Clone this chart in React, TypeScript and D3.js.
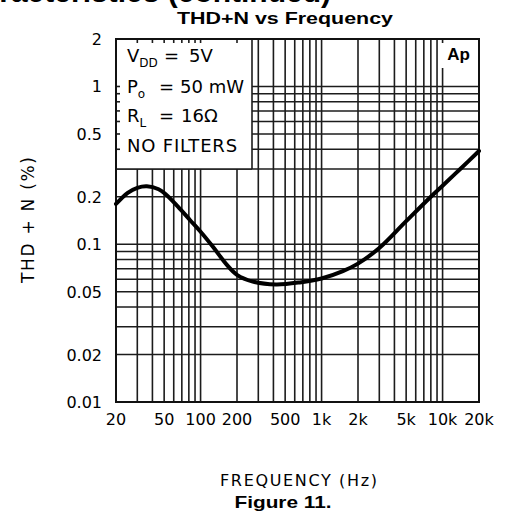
import React from 'react';
import * as d3 from 'd3';

// Measured curve (frequency in Hz, THD+N in %)
const freqs = [20, 25, 30, 36, 45, 52, 65, 82, 100, 127, 165, 200, 270, 420, 660, 1000, 1500, 2000, 3000, 5000, 8000, 10000, 14000, 20000];
const thdn = [0.18, 0.212, 0.228, 0.233, 0.223, 0.206, 0.173, 0.142, 0.12, 0.096, 0.074, 0.064, 0.058, 0.0556, 0.0573, 0.0607, 0.0676, 0.0754, 0.0946, 0.14, 0.2, 0.235, 0.3, 0.39];

const xTickValues = [20, 50, 100, 200, 500, 1000, 2000, 5000, 10000, 20000];
const xTickLabels = ['20', '50', '100', '200', '500', '1k', '2k', '5k', '10k', '20k'];
const yTickValues = [2, 1, 0.5, 0.2, 0.1, 0.05, 0.02, 0.01];
const yTickLabels = ['2', '1', '0.5', '0.2', '0.1', '0.05', '0.02', '0.01'];

const legendNames = ['V', 'P', 'R', 'NO FILTERS'];
const legendSubs = ['DD', 'o', 'L', ''];
const legendValues = ['5V', '50 mW', '16\u03A9', ''];

const headerText = 'Typical Characteristics (continued)';
const titleText = 'THD+N vs Frequency';
const xTitle = 'FREQUENCY (Hz)';
const yTitle = 'THD + N (%)';
const figureText = 'Figure 11.';
const apText = 'Ap';

export default function App() {
  const W = 510, H = 512;
  const left = 116, right = 479, top = 39, bottom = 402;
  const x = d3.scaleLog().domain([20, 20000]).range([left, right]);
  const y = d3.scaleLog().domain([0.01, 2]).range([bottom, top]);

  const xGrid = x.ticks().filter(v => v > 20 * 1.001 && v < 20000 * 0.999);
  const yGrid = y.ticks().filter(v => v > 0.01 * 1.001 && v < 2 * 0.999);

  const legendRight = 252;
  const legendBottom = y(0.3);

  const data: [number, number][] = freqs.map((f, i) => [f, thdn[i]]);
  const line = d3.line<[number, number]>()
    .x(d => x(d[0]))
    .y(d => y(d[1]))
    .curve(d3.curveCatmullRom.alpha(0.5));

  const plotFont = "'DejaVu Sans', sans-serif";
  const boldFont = "'Liberation Sans', Arial, sans-serif";
  const gridColor = '#1c1c1c';
  const legendRowY = [62, 93, 122, 152];
  const eqX = [164, 159, 159, 0];
  const valX = [189, 180, 181, 0];

  return (
    <svg width={W} height={H} style={{ position: 'absolute', left: 0, top: 0, background: '#fff' }}>
      <rect x={0} y={0} width={W} height={H} fill="#fff" />
      {/* cut-off page header */}
      <text x={331} y={1.5} fontFamily={boldFont} fontWeight="bold" fontSize={30} textAnchor="end" fill="#000">{headerText}</text>

      {/* title */}
      <text x={285} y={24} fontFamily={boldFont} fontWeight="bold" fontSize={17} textAnchor="middle" textLength={216} lengthAdjust="spacingAndGlyphs" fill="#000">{titleText}</text>

      {/* grid */}
      <g stroke={gridColor} strokeWidth={1.6}>
        {xGrid.map((v, i) => (
          <line key={'gx' + i} x1={x(v)} x2={x(v)} y1={top} y2={bottom} />
        ))}
        {yGrid.map((v, i) => (
          <line key={'gy' + i} x1={left} x2={right} y1={y(v)} y2={y(v)} />
        ))}
      </g>

      {/* legend box masking the grid */}
      <rect x={left} y={top} width={legendRight - left} height={legendBottom - top} fill="#fff" />
      <g stroke={gridColor} strokeWidth={1.6}>
        <line x1={legendRight} x2={legendRight} y1={top} y2={legendBottom} />
        <line x1={left} x2={legendRight} y1={legendBottom} y2={legendBottom} />
        {xGrid.filter(v => x(v) < legendRight - 2).map((v, i) => (
          <line key={'lt' + i} x1={x(v)} x2={x(v)} y1={top} y2={top + 4} />
        ))}
        {yGrid.filter(v => y(v) < legendBottom - 2).map((v, i) => (
          <line key={'ll' + i} x1={left} x2={left + 4} y1={y(v)} y2={y(v)} />
        ))}
      </g>

      {/* Ap label area */}
      <rect x={x(10000) - 2} y={top + 4} width={right - x(10000) - 1} height={25} fill="#fff" />
      <text x={458.5} y={60} fontFamily={boldFont} fontWeight="bold" fontSize={17} textAnchor="middle" fill="#000">{apText}</text>

      {/* frame */}
      <rect x={left} y={top} width={right - left} height={bottom - top} fill="none" stroke="#111" strokeWidth={2} />

      {/* curve */}
      <path d={line(data) || ''} fill="none" stroke="#000" strokeWidth={4} strokeLinejoin="round" strokeLinecap="round" />

      {/* legend text */}
      <g fontFamily={plotFont} fill="#000">
        {legendNames.map((n, i) => (
          <g key={'lg' + i}>
            <text x={127} y={legendRowY[i]} fontSize={18} letterSpacing={legendSubs[i] ? 0 : 0.8}>
              {n}
              {legendSubs[i] ? <tspan fontSize={12} dy={5}>{legendSubs[i]}</tspan> : null}
            </text>
            {legendValues[i] ? (
              <>
                <text x={eqX[i]} y={legendRowY[i]} fontSize={18}>=</text>
                <text x={valX[i]} y={legendRowY[i]} fontSize={18}>{legendValues[i]}</text>
              </>
            ) : null}
          </g>
        ))}
      </g>

      {/* y tick labels */}
      <g fontFamily={plotFont} fontSize={16} fill="#000" textAnchor="end">
        {yTickValues.map((v, i) => (
          <text key={'yl' + i} x={102} y={y(v) + 6}>{yTickLabels[i]}</text>
        ))}
      </g>
      {/* x tick labels */}
      <g fontFamily={plotFont} fontSize={16} fill="#000" textAnchor="middle">
        {xTickValues.map((v, i) => (
          <text key={'xl' + i} x={x(v)} y={425}>{xTickLabels[i]}</text>
        ))}
      </g>

      {/* axis titles */}
      <text x={298.5} y={486} fontFamily={plotFont} fontSize={16} textAnchor="middle" textLength={157} lengthAdjust="spacing" fill="#000">{xTitle}</text>
      <text transform="translate(34,220) rotate(-90)" x={0} y={0} fontFamily={plotFont} fontSize={17} textAnchor="middle" textLength={126} lengthAdjust="spacing" fill="#000">{yTitle}</text>

      {/* figure caption */}
      <text x={283} y={508} fontFamily={boldFont} fontWeight="bold" fontSize={17} textAnchor="middle" textLength={97} lengthAdjust="spacingAndGlyphs" fill="#000">{figureText}</text>
    </svg>
  );
}
